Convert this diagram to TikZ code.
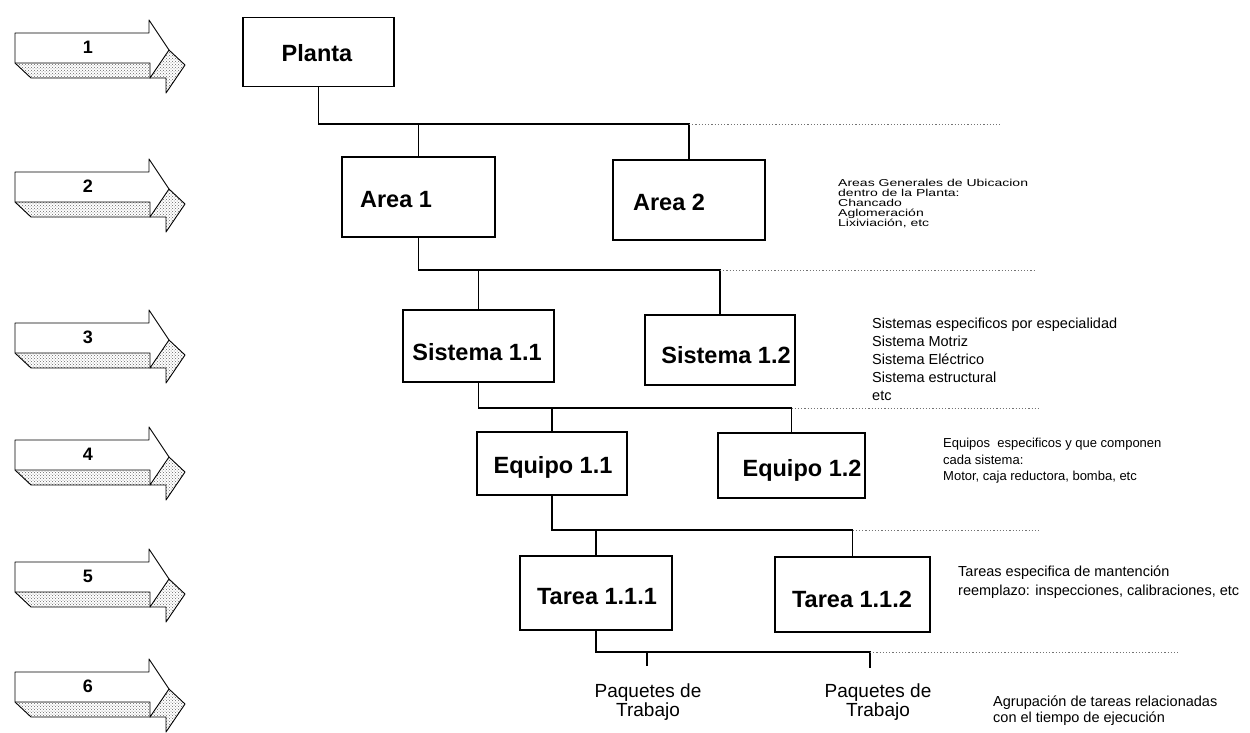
\documentclass[tikz,border=0pt]{standalone}
\usepackage{fontspec}
\setmainfont{Liberation Sans}
\usetikzlibrary{patterns}
\newcommand\levelarrow[3]{% name, top y, number
  \begin{scope}[yshift=-#2pt]
    \fill[white] (31,15)--(165,15)--(165,2)--(185,32)--(166,60)--(166,45)--(31,45)--cycle;
    \fill[pattern=crosshatch dots, pattern color=black!60]
      (15,30)--(150,30)--(150,45)--(169,17)--(185,32)--(166,60)--(166,45)--(31,45)--cycle;
    \draw[line width=0.9pt, line join=round]
      (15,30)--(31,45)--(166,45)--(166,60)--(185,32)--(169,17);
    \draw[line width=0.9pt, line join=round, fill=white]
      (15,0)--(149,0)--(149,-13)--(169,17)--(150,45)--(150,30)--(15,30)--cycle;
    \node[numlabel] (#1) at (88,14) {#3};
  \end{scope}}
\begin{document}
\begin{tikzpicture}[x=1pt,y=-1pt,
  box/.style={draw, line width=1.6pt, inner sep=0pt},
  boxlabel/.style={font=\fontsize{23.5}{26}\selectfont\bfseries},
  numlabel/.style={font=\fontsize{18}{20}\selectfont\bfseries},
  conn/.style={line width=1.3pt},
  dots/.style={line width=1pt, black!55, dash pattern=on 1.2pt off 2pt},
  note/.style={font=\fontsize{14.5}{16}\selectfont, align=left, anchor=north west, inner sep=0pt},
  pkg/.style={font=\fontsize{19}{15}\selectfont, align=center, inner sep=0pt}]
\useasboundingbox (0,0) rectangle (1250,732);
\fill[white] (0,0) rectangle (1250,732);
% level arrows
\levelarrow{a1}{33}{1}
\levelarrow{a2}{172}{2}
\levelarrow{a3}{323}{3}
\levelarrow{a4}{440}{4}
\levelarrow{a5}{562}{5}
\levelarrow{a6}{672}{6}
% boxes
\node[box, minimum width=151pt, minimum height=69pt] (planta) at (318.5,52) {};
\node[boxlabel] (plantaT) at (317,53) {Planta};
\node[box, minimum width=153pt, minimum height=80pt] (area1) at (418.5,197) {};
\node[boxlabel] (area1T) at (396,200) {Area 1};
\node[box, minimum width=152pt, minimum height=80pt] (area2) at (689,200) {};
\node[boxlabel] (area2T) at (669,202) {Area 2};
\node[box, minimum width=151pt, minimum height=72pt] (s11) at (478.5,346) {};
\node[boxlabel] (s11T) at (477,352) {Sistema 1.1};
\node[box, minimum width=150pt, minimum height=70pt] (s12) at (720,350) {};
\node[boxlabel] (s12T) at (726,355) {Sistema 1.2};
\node[box, minimum width=150pt, minimum height=63pt] (e11) at (552,463.5) {};
\node[boxlabel] (e11T) at (553,467) {Equipo 1.1};
\node[box, minimum width=147pt, minimum height=65pt] (e12) at (791.5,465.5) {};
\node[boxlabel] (e12T) at (802,470) {Equipo 1.2};
\node[box, minimum width=152pt, minimum height=74pt] (t111) at (596,593) {};
\node[boxlabel] (t111T) at (597,597) {Tarea 1.1.1};
\node[box, minimum width=155pt, minimum height=75pt] (t112) at (852.5,594.5) {};
\node[boxlabel] (t112T) at (852,599) {Tarea 1.1.2};
\node[pkg] (p1) at (648,702) {Paquetes de\\Trabajo};
\node[pkg] (p2) at (878,702) {Paquetes de\\Trabajo};
% junction coordinates
\coordinate (y1) at (0,124);
\coordinate (y2) at (0,270);
\coordinate (y3) at (0,408);
\coordinate (y4) at (0,530);
\coordinate (y5) at (0,652);
\coordinate (p1t) at (647,666);
\coordinate (p2t) at (870,668);
\coordinate (h1) at (area2.north |- y1);
\coordinate (h2) at (s12.north |- y2);
\coordinate (h3) at (e12.north |- y3);
\coordinate (h4) at (t112.north |- y4);
\coordinate (h5) at (p2t |- y5);
\coordinate (h1e) at (1000,124);
\coordinate (h2e) at (1035,270);
\coordinate (h3e) at (1040,408);
\coordinate (h4e) at (1040,530);
\coordinate (h5e) at (1180,652);
% connectors
\draw[conn] (planta.south) |- (h1) -- (area2.north);
\draw[conn] (area1.north) -- (area1.north |- h1);
\draw[conn] (area1.south) |- (h2) -- (s12.north);
\draw[conn] (s11.north) -- (s11.north |- h2);
\draw[conn] (s11.south) |- (h3) -- (e12.north);
\draw[conn] (e11.north) -- (e11.north |- h3);
\draw[conn] (e11.south) |- (h4) -- (t112.north);
\draw[conn] (t111.north) -- (t111.north |- h4);
\draw[conn] (t111.south) |- (h5) -- (p2t);
\draw[conn] (p1t |- h5) -- (p1t);
% dotted extensions
\draw[dots] (h1) -- (h1e);
\draw[dots] (h2) -- (h2e);
\draw[dots] (h3) -- (h3e);
\draw[dots] (h4) -- (h4e);
\draw[dots] (h5) -- (h5e);
% notes
\node[note, font=\fontsize{14}{14}\selectfont, yscale=0.72, transform shape] (n2) at (838,179)
  {Areas Generales de Ubicacion\\dentro de la Planta:\\Chancado\\Aglomeración\\Lixiviación, etc};
\node[note, font=\fontsize{14.5}{18}\selectfont] (n3) at (872,318)
  {Sistemas especificos por especialidad\\Sistema Motriz\\Sistema Eléctrico\\Sistema estructural\\etc};
\node[note, font=\fontsize{13}{16.5}\selectfont] (n4) at (943,438)
  {Equipos\ \ especificos y que componen\\cada sistema:\\Motor, caja reductora, bomba, etc};
\node[note, font=\fontsize{14.5}{19}\selectfont] (n5) at (958,566)
  {Tareas especifica de mantención\\reemplazo: inspecciones, calibraciones, etc};
\node[note] (n6) at (993,696)
  {Agrupación de tareas relacionadas\\con el tiempo de ejecución};
\end{tikzpicture}
\end{document}
